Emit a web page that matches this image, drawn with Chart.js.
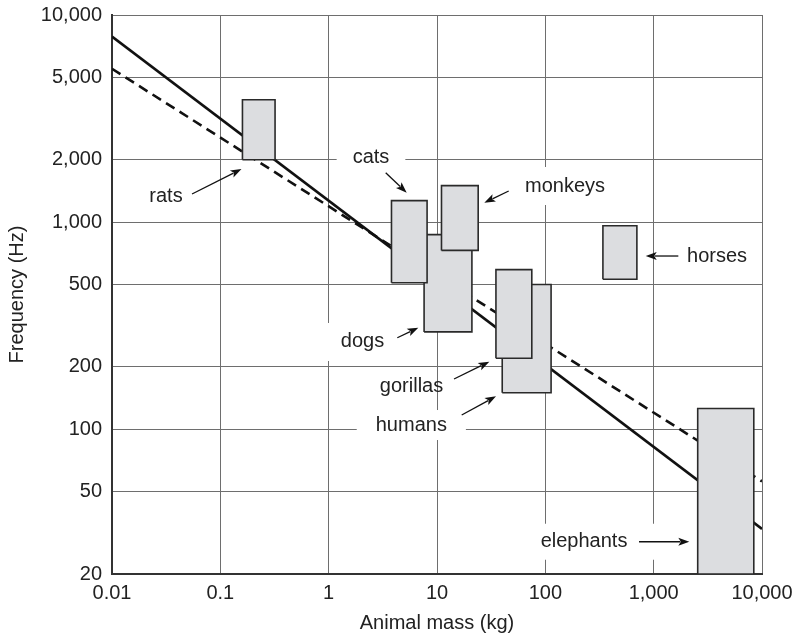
<!DOCTYPE html>
<html>
<head>
<meta charset="utf-8">
<script src="https://cdn.jsdelivr.net/npm/chart.js@4/dist/chart.umd.min.js"></script>
<style>
  html, body { margin: 0; padding: 0; background: #ffffff; }
  #wrap { width: 797px; height: 640px; position: relative; }
</style>
</head>
<body>
<div id="wrap"><canvas id="c" width="797" height="640"></canvas></div>
<script>
// ---------- data ----------
const animals   = ['rats', 'cats', 'dogs', 'monkeys', 'gorillas', 'humans', 'horses', 'elephants'];
const massLow   = [0.16, 3.8, 7.6, 11, 35, 40, 340, 2550];
const massHigh  = [0.32, 8.1, 21, 24, 75, 113, 700, 8400];
const freqLow   = [2000, 510, 295, 730, 220, 150, 530, 20];
const freqHigh  = [3900, 1270, 870, 1500, 590, 500, 960, 126];

const fitMass     = [0.01, 10000];
const solidFreq   = [7860, 33];
const dashedFreq  = [5500, 56];

const xTicks = [0.01, 0.1, 1, 10, 100, 1000, 10000];
const yTicks = [20, 50, 100, 200, 500, 1000, 2000, 5000, 10000];

const xTitle = 'Animal mass (kg)';
const yTitle = 'Frequency (Hz)';

// ---------- styling / layout ----------
const FONT = '"Liberation Sans", Arial, Helvetica, sans-serif';
const TXT = '#222222';
const boxOrder = { dogs: 9, cats: 8, monkeys: 7, humans: 6, gorillas: 5 };

// annotation placement (in data units: mass, frequency)
const labelLayout = {
  rats:      { at: [0.0315, 1337], arrow: [[0.0548, 1367], [0.1568, 1805]] },
  cats:      { at: [2.459, 2062], arrow: [[3.361, 1732], [5.253, 1387]], bg: [16, 8] },
  monkeys:   { at: [151.9, 1494], arrow: [[45.9, 1413], [27.34, 1241]], bg: [8, 9] },
  horses:    { at: [3844, 686], arrow: [[1689, 686], [844.6, 686]] },
  dogs:      { at: [2.053, 263.8], arrow: [[4.301, 276.5], [6.722, 309.2]], bg: [14, 9] },
  gorillas:  { at: [5.818, 160.4], arrow: [[14.36, 174.8], [30.4, 211.8]] },
  humans:    { at: [5.794, 104.8], arrow: [[16.91, 117.1], [35.05, 144.3]], bg: [19, 5] },
  elephants: { at: [227.5, 28.63], arrow: [[732.5, 28.63], [2133, 28.63]], bg: [10, 8], bgToArrow: true }
};

function fmt(v) {
  return Number(v).toLocaleString('en-US', { maximumFractionDigits: 2 });
}

// ---------- datasets ----------
const datasets = [];
animals.forEach((name, i) => {
  datasets.push({
    label: name,
    data: [
      { x: massLow[i],  y: freqLow[i] },
      { x: massHigh[i], y: freqLow[i] },
      { x: massHigh[i], y: freqHigh[i] },
      { x: massLow[i],  y: freqHigh[i] },
      { x: massLow[i],  y: freqLow[i] }
    ],
    showLine: true,
    fill: 'shape',
    backgroundColor: '#dcdde0',
    borderColor: '#2a2a2a',
    borderWidth: 1.6,
    borderJoinStyle: 'miter',
    pointRadius: 0,
    tension: 0,
    order: boxOrder[name] || 1
  });
});
datasets.push({
  label: 'fit solid',
  data: fitMass.map((m, i) => ({ x: m, y: solidFreq[i] })),
  showLine: true, fill: false,
  borderColor: '#111111', borderWidth: 2.6, pointRadius: 0, order: 100
});
datasets.push({
  label: 'fit dashed',
  data: fitMass.map((m, i) => ({ x: m, y: dashedFreq[i] })),
  showLine: true, fill: false,
  borderColor: '#111111', borderWidth: 2.6, borderDash: [10, 6], pointRadius: 0, order: 101
});

// ---------- annotation plugin ----------
function px(chart, p) {
  return [chart.scales.x.getPixelForValue(p[0]), chart.scales.y.getPixelForValue(p[1])];
}
const annotationPlugin = {
  id: 'annot',
  beforeDatasetsDraw(chart) {
    const ctx = chart.ctx;
    ctx.save();
    ctx.font = '20px ' + FONT;
    animals.forEach(name => {
      const L = labelLayout[name];
      if (!L || !L.bg) return;
      const [cx, cy] = px(chart, L.at);
      const w = ctx.measureText(name).width;
      let x0 = cx - w / 2 - L.bg[0];
      let x1 = cx + w / 2 + L.bg[0];
      const y0 = cy - 10 - L.bg[1];
      const y1 = cy + 10 + L.bg[1];
      if (L.bgToArrow) {
        const e = px(chart, L.arrow[1]);
        x1 = Math.max(x1, e[0] + 3);
      }
      ctx.fillStyle = '#ffffff';
      ctx.fillRect(x0, y0, x1 - x0, y1 - y0);
    });
    ctx.restore();
  },
  afterDatasetsDraw(chart) {
    const ctx = chart.ctx;
    ctx.save();
    ctx.font = '20px ' + FONT;
    ctx.fillStyle = TXT;
    ctx.textAlign = 'center';
    ctx.textBaseline = 'middle';
    animals.forEach(name => {
      const L = labelLayout[name];
      if (!L) return;
      const [cx, cy] = px(chart, L.at);
      ctx.fillStyle = TXT;
      ctx.fillText(name, cx, cy);
      const s = px(chart, L.arrow[0]);
      const e = px(chart, L.arrow[1]);
      const ang = Math.atan2(e[1] - s[1], e[0] - s[0]);
      const head = 11, half = 4;
      const bx = e[0] - head * Math.cos(ang), by = e[1] - head * Math.sin(ang);
      ctx.strokeStyle = '#111';
      ctx.lineWidth = 1.3;
      ctx.beginPath();
      ctx.moveTo(s[0], s[1]);
      ctx.lineTo(bx + 2 * Math.cos(ang), by + 2 * Math.sin(ang));
      ctx.stroke();
      ctx.fillStyle = '#111';
      ctx.beginPath();
      ctx.moveTo(e[0], e[1]);
      ctx.lineTo(bx - half * Math.sin(ang), by + half * Math.cos(ang));
      ctx.lineTo(bx + 2.5 * Math.cos(ang), by + 2.5 * Math.sin(ang));
      ctx.lineTo(bx + half * Math.sin(ang), by - half * Math.cos(ang));
      ctx.closePath();
      ctx.fill();
    });
    ctx.restore();
  }
};

// ---------- chart ----------
new Chart(document.getElementById('c'), {
  type: 'scatter',
  data: { datasets },
  plugins: [annotationPlugin],
  options: {
    responsive: false,
    animation: false,
    events: [],
    layout: { padding: { top: 15, right: 35, bottom: 0, left: 0 } },
    plugins: { legend: { display: false }, tooltip: { enabled: false } },
    scales: {
      x: {
        type: 'logarithmic',
        min: 0.01, max: 10000,
        afterBuildTicks: s => { s.ticks = xTicks.map(v => ({ value: v })); },
        afterFit: s => { s.height = 66; s.paddingLeft = 0; s.paddingRight = 0; },
        ticks: {
          callback: v => fmt(v),
          color: TXT, font: { family: FONT, size: 20 }, padding: 7,
          maxRotation: 0, minRotation: 0, autoSkip: false
        },
        grid: { color: '#6e6e6e', lineWidth: 1, drawTicks: false },
        border: { color: '#333333', width: 2 },
        title: {
          display: true, text: xTitle, color: TXT,
          font: { family: FONT, size: 20 }, padding: { top: 0, bottom: 5 }
        }
      },
      y: {
        type: 'logarithmic',
        min: 20, max: 10000,
        afterBuildTicks: s => { s.ticks = yTicks.map(v => ({ value: v })); },
        afterFit: s => { s.width = 112; s.paddingTop = 0; s.paddingBottom = 0; },
        ticks: {
          callback: v => fmt(v),
          color: TXT, font: { family: FONT, size: 20 }, padding: 10, autoSkip: false
        },
        grid: { color: '#6e6e6e', lineWidth: 1, drawTicks: false },
        border: { color: '#333333', width: 2 },
        title: {
          display: true, text: yTitle, color: TXT,
          font: { family: FONT, size: 20 }, padding: { top: 5, bottom: 0 }
        }
      }
    }
  }
});
</script>
</body>
</html>
